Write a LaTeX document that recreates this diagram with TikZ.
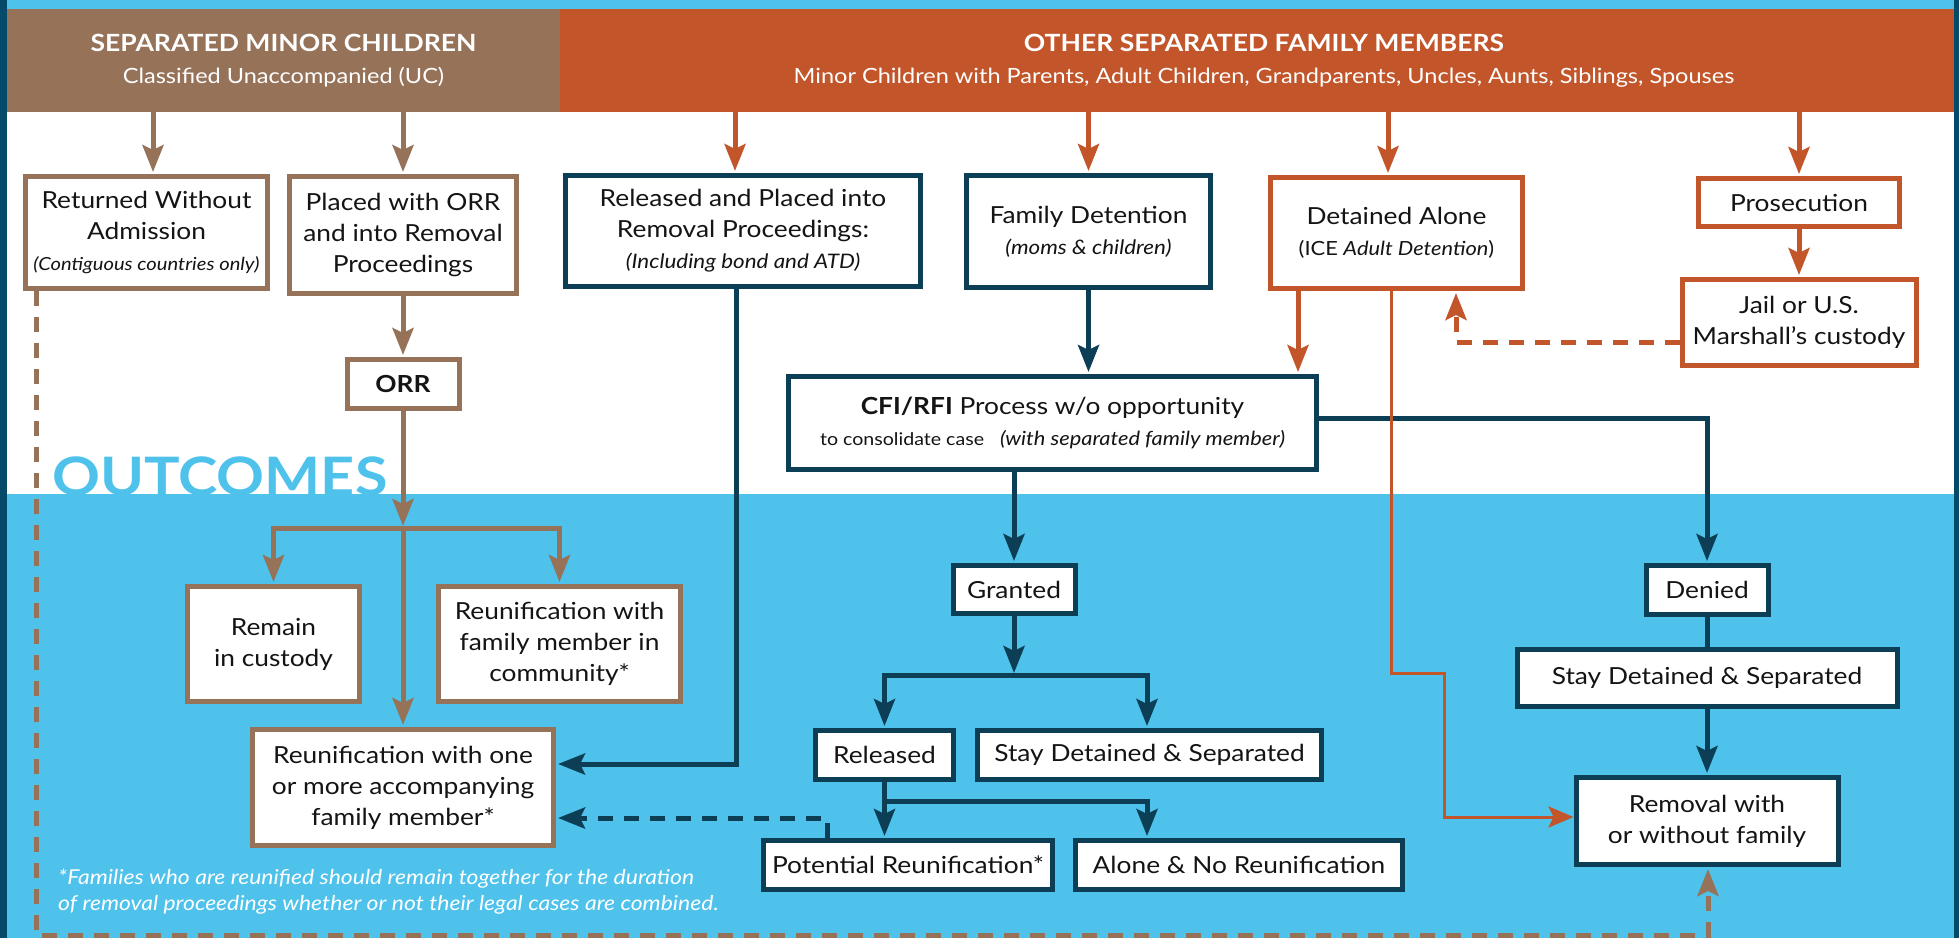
\documentclass[tikz,border=0pt]{standalone}
\usepackage{fontspec}
\setmainfont{Lato}[FakeStretch=1.12]
\usepackage{tikz}
\usetikzlibrary{positioning,arrows.meta}

\definecolor{skyb}{HTML}{4FC2EC}
\definecolor{umber}{HTML}{967259}
\definecolor{rust}{HTML}{C2552A}
\definecolor{navy}{HTML}{0C3F56}
\definecolor{rim}{HTML}{054B69}
\definecolor{ink}{HTML}{141414}

\newcommand{\boxfont}{\fontsize{23.5}{31}\selectfont}
\newcommand{\subfont}{\fontsize{20}{31}\selectfont\itshape}

\begin{document}
\begin{tikzpicture}[x=1pt,y=-1pt,
    box/.style={draw,fill=white,line width=5pt,align=center,inner sep=0pt,text=ink,font=\boxfont},
    brbox/.style={box,draw=umber},
    tlbox/.style={box,draw=navy},
    orbox/.style={box,draw=rust},
    hdr/.style={inner sep=0pt,align=center,text=white,font=\fontsize{21}{32}\selectfont},
    tip/.style={-{Stealth[length=27pt,width=21pt,inset=5pt]},shorten >=2pt},
    brarr/.style={tip,umber,line width=5pt},
    tlarr/.style={tip,navy,line width=5pt},
    orarr/.style={tip,rust,line width=5pt},
    brdash/.style={brarr,dash pattern=on 15pt off 11pt},
    tldash/.style={tlarr,dash pattern=on 15pt off 11pt},
    ordash/.style={orarr,dash pattern=on 15pt off 11pt},
    orthin/.style={-{Stealth[length=25pt,width=21pt,inset=5pt]},rust,line width=3pt}]
  \useasboundingbox (0,0) rectangle (1959,938);
  \fill[skyb]  (0,0)    rectangle (1959,938);
  \fill[white] (7,112)  rectangle (1954,494);

  \node[hdr,fill=rust,minimum width=1408,minimum height=103] (hdrR) at (1264,60.5)
    {{\fontsize{23.7}{32}\selectfont\bfseries OTHER SEPARATED FAMILY MEMBERS}\\
     Minor Children with Parents, Adult Children, Grandparents, Uncles, Aunts, Siblings, Spouses};
  \node[hdr,fill=umber,minimum width=553,minimum height=103] (hdrL) at (283.5,60.5)
    {{\fontsize{23.7}{32}\selectfont\bfseries SEPARATED MINOR CHILDREN}\\
     Classified Unaccompanied (UC)};
  \fill[rim]   (0,0)    rectangle (7,938);
  \fill[rim]   (1954,0) rectangle (1959,938);

  \node[anchor=base west,inner sep=0pt,text=skyb,font=\fontsize{53}{53}\selectfont\bfseries] (outc) at (52,495) {OUTCOMES};

  \node[brbox,minimum width=242,minimum height=112] (ret)    at (146.5,232.5) {Returned Without\\Admission\\{\fontsize{18}{31}\selectfont\itshape(Contiguous countries only)}};
  \node[brbox,minimum width=227,minimum height=117] (placed) at (403,235)     {Placed with ORR\\and into Removal\\Proceedings};
  \node[tlbox,minimum width=355,minimum height=111] (rel)    at (743,231)     {Released and Placed into\\Removal Proceedings:\\{\subfont(Including bond and ATD)}};
  \node[tlbox,minimum width=244,minimum height=112] (famdet) at (1088.5,231.5) {Family Detention\\{\subfont(moms \& children)}};
  \node[orbox,minimum width=252,minimum height=111] (detal)  at (1396.5,233)  {Detained Alone\\{\fontsize{19.5}{31}\selectfont(ICE \textit{Adult Detention})}};
  \node[orbox,minimum width=201,minimum height=48]  (pros)   at (1799,202.5)  {Prosecution};
  \node[orbox,minimum width=234,minimum height=86]  (jail)   at (1799,322.5)  {Jail or U.S.\\Marshall’s custody};
  \node[brbox,minimum width=112,minimum height=49]  (orr)    at (403,384)     {\textbf{ORR}};
  \node[tlbox,minimum width=528,minimum height=93]  (cfi)    at (1052.5,423)  {\textbf{CFI/RFI} Process w/o opportunity\\{\fontsize{17.5}{30}\selectfont to consolidate case\hspace{16pt}\fontsize{19.5}{30}\selectfont\itshape(with separated family member)}};

  \node[brbox,minimum width=172,minimum height=115] (remain) at (273.5,644)   {Remain\\in custody};
  \node[brbox,minimum width=242,minimum height=115] (reunc)  at (559.5,644)   {Reunification with\\family member in\\community*};
  \node[brbox,minimum width=301,minimum height=116] (reun1)  at (403,787.5)   {Reunification with one\\or more accompanying\\family member*};
  \node[tlbox,minimum width=122,minimum height=48]  (granted)   at (1014,589.5) {Granted};
  \node[tlbox,minimum width=138,minimum height=49]  (released)  at (884.5,755)  {Released};
  \node[tlbox,minimum width=344,minimum height=49]  (staymid)   at (1149.5,755) {Stay Detained \& Separated};
  \node[tlbox,minimum width=289,minimum height=49]  (potential) at (908,865)    {Potential Reunification*};
  \node[tlbox,minimum width=327,minimum height=49]  (alone)     at (1239,865)   {Alone \& No Reunification};
  \node[tlbox,minimum width=122,minimum height=49]  (denied)    at (1707,590)   {Denied};
  \node[tlbox,minimum width=380,minimum height=57]  (stayright) at (1707,678)   {Stay Detained \& Separated};
  \node[tlbox,minimum width=262,minimum height=87]  (removal)   at (1707,821)   {Removal with\\or without family};

  \node[anchor=base west,inner sep=0pt,align=left,text=white,font=\fontsize{20.5}{26}\selectfont\itshape] (note) at (58,910)
    {*Families who are reunified should remain together for the duration\\of removal proceedings whether or not their legal cases are combined.};

  \coordinate (split1) at (403,528);
  \coordinate (split2) at (1014,675);
  \coordinate (split3) at (884.5,801);
  \coordinate (dl) at (36,935);
  \coordinate (dr) at (1708,935);
  \coordinate (jd) at (1456,342);
  \coordinate (o1) at (1391,673);
  \coordinate (o2) at (1444,673);

  \path[brarr] (hdrL.south -| 153,0) edge (ret.north -| 153,0)
               (hdrL.south -| placed) edge (placed)
               (placed) edge (orr)
               (orr) edge (split1)
               (split1) edge (reun1);
  \draw[brarr] (split1) -| (remain);
  \draw[brarr] (split1) -| (reunc);
  \draw[brdash] (ret.south -| dl) -- (dl) -- (dr) -- (removal.south -| dr);

  \path[orarr] (hdrR.south -| 735,0) edge (rel.north -| 735,0)
               (hdrR.south -| famdet) edge (famdet)
               (hdrR.south -| 1388,0) edge (detal.north -| 1388,0)
               (hdrR.south -| pros) edge (pros)
               (pros) edge (jail)
               (detal.south -| 1298,0) edge (cfi.north -| 1298,0);
  \draw[ordash] (jail.west |- jd) -- (jd) -- (detal.south -| jd);

  \path[tlarr] (famdet) edge (cfi.north -| famdet)
               (cfi.south -| granted) edge (granted)
               (granted) edge (split2)
               (released) edge (potential.north -| released)
               (stayright) edge (removal);
  \draw[tlarr] (rel.south -| 736,0) |- (reun1.east |- 0,764);
  \draw[tlarr] (split2) -| (released);
  \draw[tlarr] (split2) -| (staymid.north -| 1147,0);
  \draw[tlarr] (split3) -| (alone.north -| 1147,0);
  \draw[tldash] (potential.north -| 827,0) |- (reun1.east |- 0,818);
  \draw[tlarr] (cfi.east |- 0,418) -| (denied);
  \draw[navy,line width=5pt] (denied) -- (stayright);

  \draw[orthin] (detal.south -| o1) -- (o1) -- (o2) |- (removal.west |- 0,817);
\end{tikzpicture}
\end{document}
